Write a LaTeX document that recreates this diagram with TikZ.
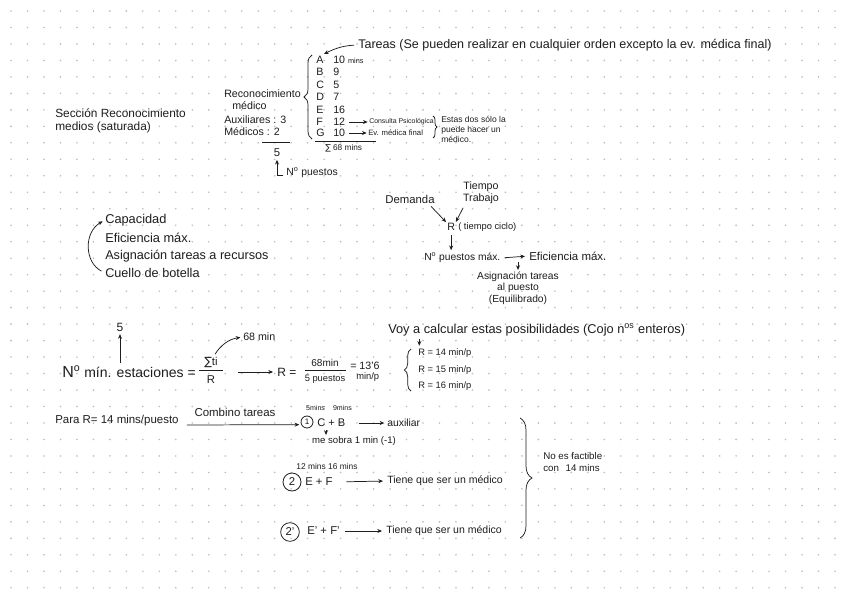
\documentclass[tikz,border=0pt]{standalone}
\usepackage{fontspec}
\setmainfont{Liberation Sans}
\newfontfamily\symf{DejaVu Sans}
\usetikzlibrary{arrows.meta,decorations.pathreplacing}
\definecolor{ink}{HTML}{1E1E1E}
\definecolor{dotc}{HTML}{BDBDBD}
\newcommand{\fs}[1]{\fontsize{#1}{#1}\selectfont}
\newcommand{\fsl}[2]{\fontsize{#1}{#2}\selectfont}
\begin{document}
\begin{tikzpicture}[x=0.75pt,y=-0.75pt,
  txt/.style={inner sep=0pt,anchor=west,text=ink},
  ctxt/.style={inner sep=0pt,anchor=center,text=ink},
  arr/.style={-{Stealth[length=3.5pt,width=3pt]},draw=ink,line width=0.55pt},
  ln/.style={draw=ink,line width=0.55pt},
  brc/.style={draw=ink,line width=0.55pt,decorate,decoration={brace,amplitude=#1}},
  circ/.style={circle,draw=ink,line width=0.6pt,inner sep=0pt,text=ink}]
\useasboundingbox (0,0) rectangle (848,599);
\fill[white] (0,0) rectangle (848,599);
\foreach \i in {0,...,50}{\foreach \j in {0,...,35}{\fill[dotc] ({11+16.48*\i},{11+16.48*\j}) circle (0.9);}}

% ---------- top section ----------
\node[txt,font=\fs{9.4}] (tareas) at (358,45) {Tareas (Se pueden realizar en cualquier orden excepto la ev. médica final)};
\node[txt,font=\fs{8}] (lA) at (316,60) {A};
\node[txt,font=\fs{8}] (lB) at (316,72) {B};
\node[txt,font=\fs{8}] (lC) at (316,85) {C};
\node[txt,font=\fs{8}] (lD) at (316,97) {D};
\node[txt,font=\fs{8}] (lE) at (316,110) {E};
\node[txt,font=\fs{8}] (lF) at (316,122) {F};
\node[txt,font=\fs{8}] (lG) at (316,133) {G};
\node[txt,font=\fs{8}] (vA) at (333,60) {10 {\fs{5.5}mins}};
\node[txt,font=\fs{8}] (vB) at (333,72) {9};
\node[txt,font=\fs{8}] (vC) at (333,85) {5};
\node[txt,font=\fs{8}] (vD) at (333,97) {7};
\node[txt,font=\fs{8}] (vE) at (333,110) {16};
\node[txt,font=\fs{8}] (vF) at (333,122) {12};
\node[txt,font=\fs{8}] (vG) at (333,133) {10};
\coordinate (tarTip) at (324,54);
\draw[arr,shorten <=3pt] (tareas.west) to[bend right=12] (tarTip);
\draw[brc=6pt] (312,139) -- (312,55);
\node[txt,font=\fs{5.2}] (cons) at (369,122) {Consulta Psicológica};
\node[txt,font=\fs{5.8}] (evm) at (368,133) {Ev. médica final};
\draw[arr,shorten <=3pt,shorten >=1pt] (vF.east) -- (cons.west);
\draw[arr,shorten <=3pt,shorten >=1pt] (vG.east) -- (evm.west);
\draw[brc=3pt] (433,116) -- (433,138);
\node[txt,font=\fsl{6.4}{7.5},align=left] (estas) at (441,129) {Estas dos sólo la\\puede hacer un\\médico.};
\draw[ln] (315,141) -- (376,141);
\node[txt,font=\fs{6.2}] (sum) at (325,148) {{\symf ∑} 68 mins};

\node[txt,font=\fs{8}] (reco) at (224,94) {Reconocimiento};
\node[txt,font=\fs{8}] (medico) at (232,106) {médico};
\node[txt,font=\fs{8}] (aux3) at (224,120) {Auxiliares : 3};
\node[txt,font=\fs{8}] (med2) at (224,132) {Médicos : 2};
\draw[ln] (262,142) -- (290,142);
\node[ctxt,font=\fs{8.5}] (five) at (277,153) {5};
\node[txt,font=\fs{7.8}] (puestos) at (286,173) {N\textsuperscript{o} puestos};
\draw[arr,shorten <=2pt,shorten >=2pt] ([yshift=-2pt]puestos.west) -| (five.south);

\node[txt,font=\fs{8.9}] (sec1) at (55,113) {Sección Reconocimiento};
\node[txt,font=\fs{8.9}] (sec2) at (55,127) {medios (saturada)};

% ---------- middle left ----------
\node[txt,font=\fs{9.6}] (cap) at (105,220) {Capacidad};
\node[txt,font=\fs{9.6}] (efi) at (105,238) {Eficiencia máx.};
\node[txt,font=\fs{9.5}] (asig) at (105,256) {Asignación tareas a recursos};
\node[txt,font=\fs{9.5}] (cue) at (105,273) {Cuello de botella};
\draw[arr,shorten <=3pt,shorten >=2pt] (cue.west) .. controls (84,262) and (84,232) .. (cap.west);

% ---------- middle right ----------
\node[ctxt,font=\fs{8.5}] (demanda) at (410,199) {Demanda};
\node[ctxt,font=\fsl{8}{9},align=center] (tiempo) at (481,193) {Tiempo\\Trabajo};
\node[txt,font=\fs{8}] (Rl) at (447,227) {R};
\node[txt,font=\fs{7}] (Rr) at (458,227) {( tiempo ciclo)};
\draw[arr,shorten <=3pt,shorten >=1pt] ([xshift=-5pt]demanda.south east) -- (Rl.north west);
\draw[arr,shorten <=3pt,shorten >=1pt] ([xshift=-12pt]tiempo.south) -- (Rl.north east);
\node[txt,font=\fs{7.7}] (npm) at (424,258) {N\textsuperscript{o} puestos máx.};
\node[txt,font=\fs{8.6}] (efi2) at (529,256) {Eficiencia máx.};
\draw[arr,shorten <=3pt,shorten >=2pt] (Rl.south) -- (Rl.south |- npm.north);
\draw[arr,shorten <=3pt,shorten >=3pt] (npm.east) -- (efi2.west);
\node[ctxt,font=\fsl{7.7}{8.7},align=center] (asig2) at (518,288) {Asignación tareas\\al puesto\\(Equilibrado)};
\coordinate (dsrc) at (518,262);
\draw[arr,shorten >=1pt] (dsrc) -- (asig2.north);

% ---------- bottom: formula ----------
\node[ctxt,font=\fs{9}] (five2) at (120,327) {5};
\node[txt,font=\fs{10.5}] (nmin) at (62,372) {{\fs{12}N\textsuperscript{o}} mín. estaciones =};
\draw[arr,shorten <=2pt,shorten >=2pt] (five2.south |- nmin.north) -- (five2.south);
\node[ctxt,font=\fs{8.5}] (sti) at (211,362) {{\symf ∑}ti};
\node[ctxt,font=\fs{8.5}] (fR) at (211,380) {R};
\draw[ln] (199,370) -- (223,370);
\node[txt,font=\fs{8}] (m68) at (243,337) {68 min};
\draw[arr,shorten <=2pt,shorten >=2pt] ([xshift=2pt]sti.north) to[bend left=25] (m68.west);
\node[txt,font=\fs{9}] (Req) at (277,372) {R =};
\coordinate (a1) at (238,372);
\draw[arr,shorten >=3pt] (a1) -- (Req.west);
\node[ctxt,font=\fs{7.5}] (num) at (325,363) {68min};
\node[ctxt,font=\fs{7}] (den) at (325,379) {5 puestos};
\draw[ln] (305,370) -- (346,370);
\node[txt,font=\fs{8}] (res) at (350,366) {= 13'6};
\node[txt,font=\fs{7}] (res2) at (356,377) {min/p};
\draw[brc=5pt] (411,391) -- (411,349);
\node[txt,font=\fs{7}] (r14) at (418,353) {R = 14 min/p};
\node[txt,font=\fs{7}] (r15) at (418,370) {R = 15 min/p};
\node[txt,font=\fs{7}] (r16) at (418,386) {R = 16 min/p};
\node[txt,font=\fs{9.6}] (voy) at (388,330) {Voy a calcular estas posibilidades (Cojo n\textsuperscript{os} enteros)};
\draw[arr,shorten <=2pt,shorten >=2pt] ([xshift=1pt]r14.north west |- voy.south) -- ([xshift=1pt]r14.north west);

% ---------- bottom: combinations ----------
\node[txt,font=\fs{8.6}] (para) at (55,421) {Para R= 14 mins/puesto};
\node[circ,minimum size=9pt,font=\fs{6}] (c1) at (307,422) {1};
\draw[arr,shorten <=6pt,shorten >=1pt] ([yshift=-3pt]para.east) -- ([yshift=-2pt]c1.west);
\node[ctxt,font=\fs{8.6}] (comb) at (235,412) {Combino tareas};
\node[txt,font=\fs{8.3}] (CB) at (317,423) {C + B};
\node[ctxt,font=\fs{5.3}] (sm1) at (329,408) {5mins\hspace{6pt}9mins};
\node[txt,font=\fs{7.8}] (aux) at (387,423) {auxiliar};
\draw[arr,shorten <=10pt,shorten >=2pt] (CB.east) -- (aux.west);
\node[ctxt,font=\fs{7.2}] (sobra) at (354,441) {me sobra 1 min (-1)};
\coordinate (sob0) at (326,430);
\draw[arr,shorten >=1pt] (sob0) -- (sob0 |- sobra.north);

\node[ctxt,font=\fs{6.3}] (sm2) at (327,466) {12 mins 16 mins};
\node[circ,minimum size=13.5pt,font=\fs{8.5}] (c2) at (292,482) {2};
\node[txt,font=\fs{8.5}] (EF) at (305,482) {E + F};
\node[txt,font=\fs{7.9}] (med1) at (387,481) {Tiene que ser un médico};
\draw[arr,shorten <=10pt,shorten >=3pt] (EF.east) -- (med1.west);
\node[circ,minimum size=14pt,font=\fs{8.5}] (c3) at (290,532) {2'};
\node[txt,font=\fs{8.5}] (EFp) at (307,531) {E' + F'};
\node[txt,font=\fs{7.9}] (medb) at (386,531) {Tiene que ser un médico};
\draw[arr,shorten <=4pt,shorten >=3pt] (EFp.east) -- (medb.west);
\draw[brc=9pt] (520,418) -- (520,538);
\node[txt,font=\fs{7.3},align=left] (nofact) at (543,462) {No es factible\\[1pt]con\hspace{5pt}14 mins};
\end{tikzpicture}
\end{document}
